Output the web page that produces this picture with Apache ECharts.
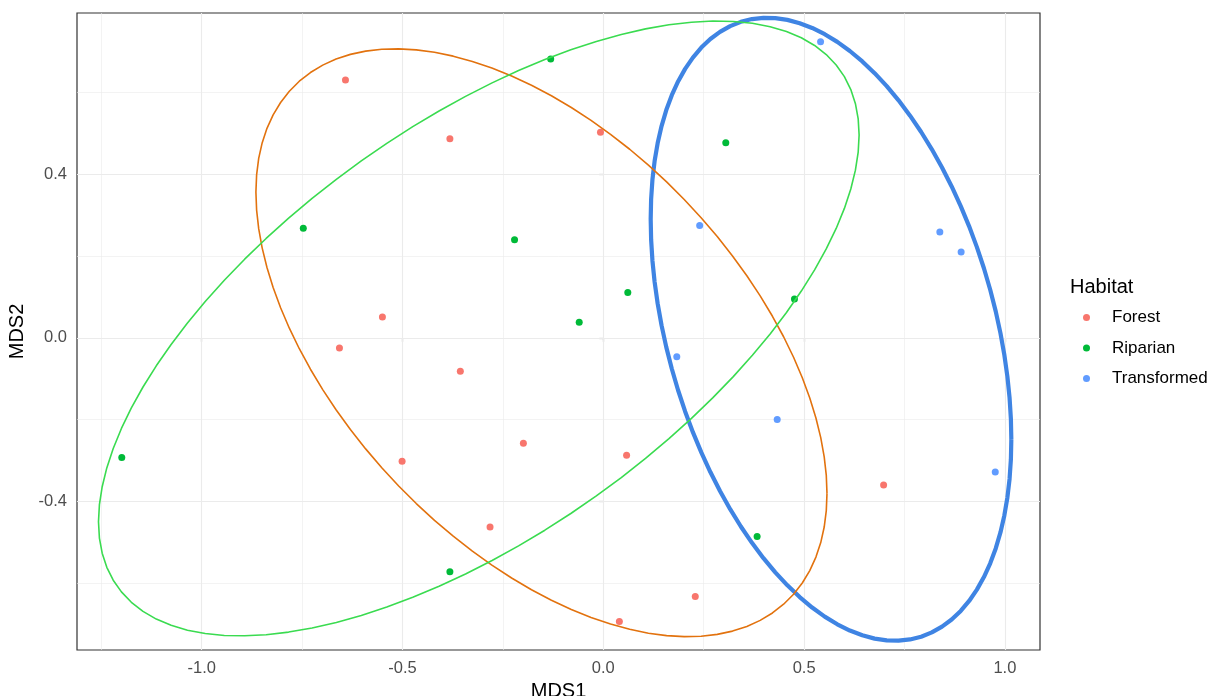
<!DOCTYPE html>
<html><head><meta charset="utf-8">
<script src="https://cdn.jsdelivr.net/npm/echarts@6/dist/echarts.min.js"></script>
<style>html,body{margin:0;padding:0;background:#fff}#c{width:1225px;height:696px}</style>
</head><body><div id="c"></div>
<script>
// ---- data ----
var groups = ['Forest', 'Riparian', 'Transformed'];
var forestX = [-0.642, -0.382, -0.007, -0.550, -0.657, -0.356, -0.199, -0.501, 0.058, -0.282, 0.229, 0.040, 0.698];
var forestY = [0.631, 0.487, 0.503, 0.051, -0.025, -0.082, -0.258, -0.302, -0.287, -0.463, -0.633, -0.694, -0.360];
var riparianX = [-0.131, 0.305, -0.747, -0.221, 0.061, -0.060, 0.476, -1.199, -0.382, 0.383];
var riparianY = [0.682, 0.477, 0.268, 0.240, 0.111, 0.038, 0.095, -0.293, -0.572, -0.486];
var transformedX = [0.541, 0.240, 0.838, 0.891, 0.183, 0.433, 0.976];
var transformedY = [0.724, 0.275, 0.259, 0.210, -0.046, -0.200, -0.328];

// ellipse geometry (Forest, Riparian, Transformed):
// centre, horizontal / vertical half-extent, and x-y covariance term of the shape matrix
var ellCenterX = [-0.154, -0.310, 0.567];
var ellCenterY = [-0.012, 0.023, 0.021];
var ellHalfX = [0.711, 0.947, 0.449];
var ellHalfY = [0.719, 0.752, 0.762];
var ellCovXY = [-0.262, 0.448, -0.121];

var xTicks = [-1.0, -0.5, 0.0, 0.5, 1.0];
var yTicks = [-0.4, 0.0, 0.4];
var xMinorGrid = [-1.25, -0.75, -0.25, 0.25, 0.75];
var yMinorGrid = [-0.6, -0.2, 0.2, 0.6];
var xRange = [-1.3105, 1.0874];
var yRange = [-0.7636, 0.7946];

// ---- styles ----
var pointColors = ['#F8766D', '#00BA38', '#619CFF'];
var ellipseColors = ['#E2720E', '#3ADB50', '#3F84E3'];
var ellipseWidths = [1.6, 1.6, 4.2];
var FONT = '"Liberation Sans", Arial, sans-serif';

function zip(xs, ys) { return xs.map(function (x, i) { return [x, ys[i]]; }); }

// ellipse outline from centre + shape matrix via Cholesky (as ggplot2::stat_ellipse draws it)
function ellipsePath(i, segments) {
  var a = ellHalfX[i] * ellHalfX[i], b = ellCovXY[i], c = ellHalfY[i] * ellHalfY[i];
  var r11 = Math.sqrt(a), r12 = b / r11, r22 = Math.sqrt(c - r12 * r12);
  var out = [];
  for (var k = 0; k <= segments; k++) {
    var t = k * 2 * Math.PI / segments;
    var cs = Math.cos(t), sn = Math.sin(t);
    out.push([ellCenterX[i] + cs * r11, ellCenterY[i] + cs * r12 + sn * r22]);
  }
  return out;
}

var groupPts = [zip(forestX, forestY), zip(riparianX, riparianY), zip(transformedX, transformedY)];

var series = [];
var gridData = [];
xTicks.forEach(function (v) { gridData.push({ xAxis: v, lineStyle: { color: '#EBEBEB', width: 1.1, type: 'solid' } }); });
xMinorGrid.forEach(function (v) { gridData.push({ xAxis: v, lineStyle: { color: '#EBEBEB', width: 0.6, type: 'solid' } }); });
yTicks.forEach(function (v) { gridData.push({ yAxis: v, lineStyle: { color: '#EBEBEB', width: 1.1, type: 'solid' } }); });
yMinorGrid.forEach(function (v) { gridData.push({ yAxis: v, lineStyle: { color: '#EBEBEB', width: 0.6, type: 'solid' } }); });
series.push({
  name: 'grid', type: 'line', data: [], z: 1, silent: true,
  markLine: { silent: true, symbol: ['none', 'none'], z: 1, label: { show: false }, animation: false, data: gridData }
});
groups.forEach(function (g, i) {
  series.push({
    name: g, type: 'scatter', data: groupPts[i], symbol: 'circle', symbolSize: 7, z: 3,
    itemStyle: { color: pointColors[i], opacity: 1 }, silent: true
  });
});
[2, 0, 1].forEach(function (i) {
  series.push({
    name: groups[i] + ' ellipse', type: 'line', data: ellipsePath(i, 90),
    symbol: 'none', showSymbol: false, smooth: false, z: 4, silent: true,
    lineStyle: { color: ellipseColors[i], width: ellipseWidths[i] }
  });
});

var chart = echarts.init(document.getElementById('c'), null, { renderer: 'canvas' });
chart.setOption({
  animation: false,
  backgroundColor: '#ffffff',
  title: {
    text: 'Habitat', left: 1065, top: 272,
    textStyle: { fontFamily: FONT, fontSize: 20, fontWeight: 'normal', color: '#000000' }
  },
  legend: {
    data: groups, orient: 'vertical', left: 1078, top: 304,
    icon: 'circle', itemWidth: 7, itemHeight: 7, itemGap: 13.5,
    textStyle: { fontFamily: FONT, fontSize: 17, color: '#000000', lineHeight: 16, padding: [0, 0, 0, 17] }
  },
  grid: {
    left: 77, right: 185, top: 13, bottom: 46, show: true, outerBoundsMode: 'none', containLabel: false,
    borderColor: '#333333', borderWidth: 1.2, backgroundColor: 'transparent'
  },
  xAxis: {
    type: 'value', min: xRange[0], max: xRange[1],
    name: 'MDS1', nameLocation: 'middle', nameGap: 25,
    nameTextStyle: { fontFamily: FONT, fontSize: 20, color: '#000000' },
    axisLine: { show: false },
    splitLine: { show: false },
    axisTick: { show: true, customValues: xTicks, length: 4, lineStyle: { color: '#333333', width: 1.1 } },
    axisLabel: { customValues: xTicks, margin: 10, fontFamily: FONT, fontSize: 16.5, color: '#4D4D4D',
      formatter: function (v) { return v.toFixed(1); } }
  },
  yAxis: {
    type: 'value', min: yRange[0], max: yRange[1],
    name: 'MDS2', nameLocation: 'middle', nameGap: 47,
    nameTextStyle: { fontFamily: FONT, fontSize: 20, color: '#000000' },
    axisLine: { show: false },
    splitLine: { show: false },
    axisTick: { show: true, customValues: yTicks, length: 4, lineStyle: { color: '#333333', width: 1.1 } },
    axisLabel: { customValues: yTicks, margin: 10, fontFamily: FONT, fontSize: 16.5, color: '#4D4D4D',
      formatter: function (v) { return v.toFixed(1); } }
  },
  series: series
});
</script></body></html>
